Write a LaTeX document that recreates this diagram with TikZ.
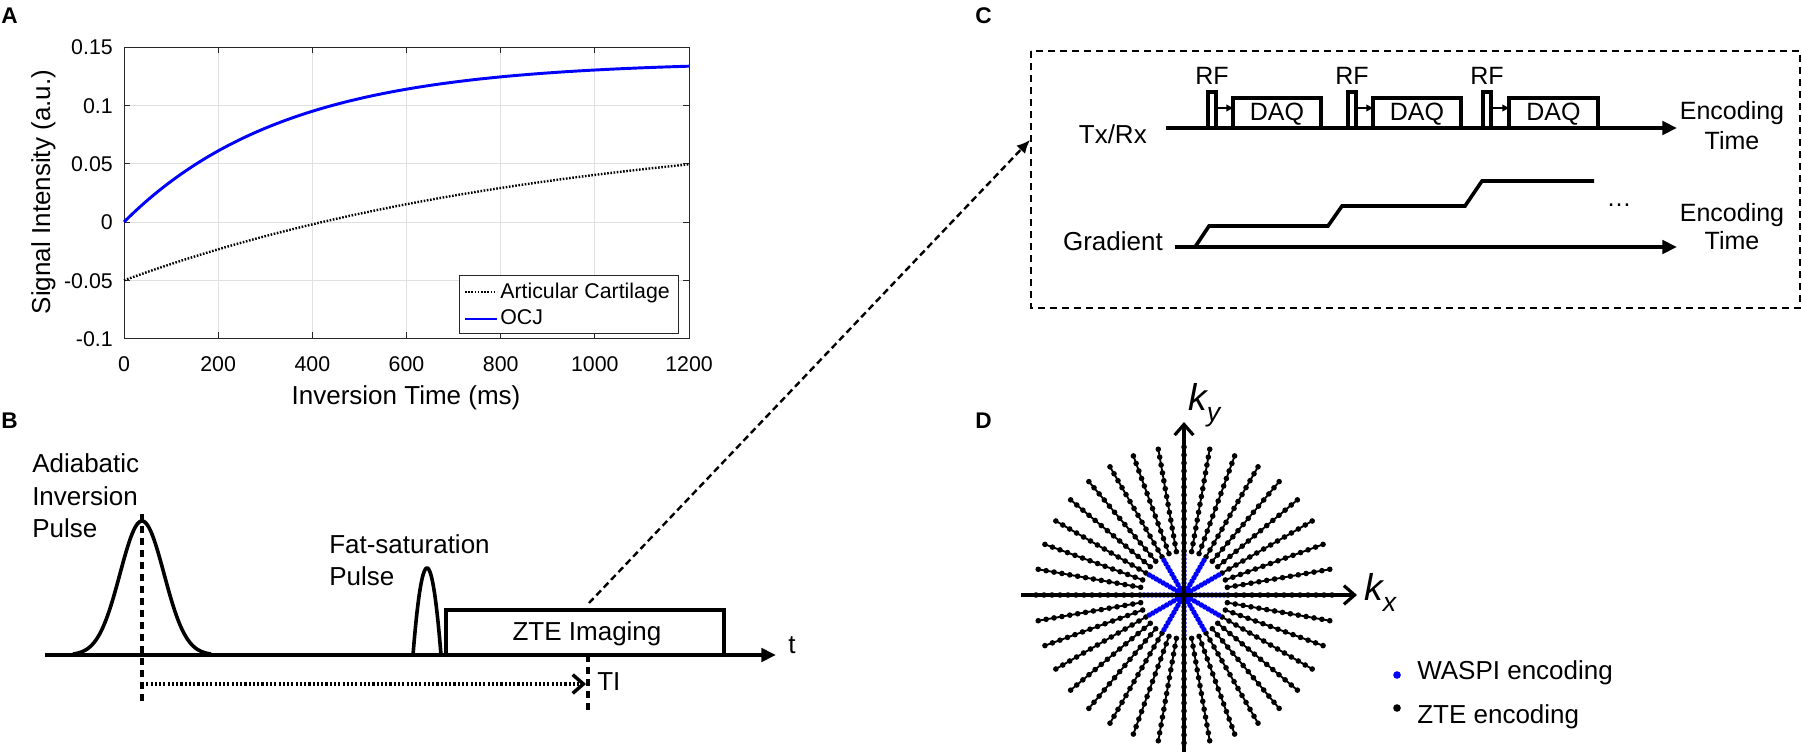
\documentclass[tikz,border=0pt]{standalone}
\usepackage{fontspec}
\setmainfont{Liberation Sans}
\usetikzlibrary{arrows.meta}

\tikzset{
  panel/.style={font=\fontsize{17}{20}\selectfont\bfseries, inner sep=0pt, anchor=base west},
  ticklbl/.style={font=\fontsize{16}{19}\selectfont, inner sep=0pt},
  axlbl/.style={font=\fontsize{19.5}{23}\selectfont, inner sep=0pt, anchor=base},
  leglbl/.style={font=\fontsize{16}{19}\selectfont, inner sep=0pt, anchor=base west},
  seqtxt/.style={font=\fontsize{19.5}{23}\selectfont, inner sep=0pt},
  ctxt/.style={font=\fontsize{18.75}{22}\selectfont, inner sep=0pt, anchor=base},
  ktxt/.style={font=\fontsize{28}{31}\selectfont\itshape, inner sep=0pt, anchor=base west},
  gridln/.style={draw=black!12, line width=0.6pt},
  axln/.style={draw=black!85, line width=0.6pt},
  seqln/.style={line width=2.7pt},
  dashln/.style={line width=2.3pt, dash pattern=on 5.5pt off 3.5pt},
  dotln/.style={line width=1.8pt, dash pattern=on 1.2pt off 1.2pt},
  tarrow/.style={-{Triangle[length=11pt,width=10pt]}},
  barb/.style={-{Straight Barb[length=8pt,width=14pt]}},
  spoke/.style={line width=1.4pt},
}

\begin{document}
\begin{tikzpicture}[x=0.75pt,y=0.75pt,yscale=-1]
\fill[white] (0,0) rectangle (1802,752);
\useasboundingbox (0,0) rectangle (1802,752);

% ---------------- A: inversion recovery curves
\node[panel] (labA) at (1,24) {A};
\foreach \k in {1,...,5}
  \draw[gridln] ({124+94.17*\k},47) -- ({124+94.17*\k},338);
\foreach \j in {1,...,4}
  \draw[gridln] (124,{47+58.33*\j}) -- (689,{47+58.33*\j});
\draw[axln] (124,47) rectangle (689,338);
\foreach \k/\v in {0/0,1/200,2/400,3/600,4/800,5/1000,6/1200} {
  \draw[axln] ({124+94.17*\k},338) -- ++(0,-6) ({124+94.17*\k},47) -- ++(0,6);
  \node[ticklbl, anchor=base] (xt\k) at ({124+94.17*\k},371) {\v};
}
\foreach \j/\v in {0/0.15,1/0.1,2/0.05,3/0,4/-0.05,5/-0.1} {
  \draw[axln] (124,{47+58.33*\j}) -- ++(6,0) (689,{47+58.33*\j}) -- ++(-6,0);
  \node[ticklbl, anchor=base east] (yt\j) at (113,{55+58.33*\j}) {\v};
}
\draw[dotln] plot[domain=0:1200, samples=80, smooth] ({124+0.4708*\x},{222-1166.7*(0.087-0.137*exp(-\x/928))});
\draw[blue, line width=2.2pt] plot[domain=0:1200, samples=80, smooth] ({124+0.4708*\x},{222-160.6*(1-exp(-\x/342))});
% legend
\draw[axln, fill=white] (459,275) rectangle (678,333);
\draw[dotln] (465,292) -- (497,292);
\draw[blue, line width=2.2pt] (465,319) -- (497,319);
\node[leglbl] (legAC) at (500,298) {Articular Cartilage};
\node[leglbl] (legOCJ) at (500,325) {OCJ};
\node[axlbl] (xlab) at (406,404) {Inversion Time (ms)};
\node[axlbl, rotate=90] (ylab) at (50,192) {Signal Intensity (a.u.)};

% ---------------- B: pulse sequence
\node[panel] (labB) at (1,428) {B};
\draw[seqln, tarrow] (45,655) -- (776,655);
\node[seqtxt, anchor=base west] (tlab) at (788,653) {t};
\draw[seqln] plot[domain=-69:69, samples=80, smooth] ({142+\x},{655-134*exp(-(\x*\x)/968)});
\draw[dashln] (142,514) -- (142,705);
\draw[seqln] plot[domain=-1:1, samples=40, smooth] ({427+14*\x},{655-87*(1-\x*\x)});
\draw[seqln] (446,655) -- (446,610) -- (724,610) -- (724,655);
\node[seqtxt, anchor=base] (zte) at (587,640) {ZTE Imaging};
\draw[dashln] (588,655) -- (588,710);
\coordinate (tiStart) at (142,684);
\coordinate (tiEnd) at (586,684);
\draw[line width=2.6pt, dash pattern=on 1.6pt off 1.6pt, barb] (tiStart) -- (tiEnd);
\node[seqtxt, anchor=base west] (tilab) at (597,690) {TI};
\node[seqtxt, anchor=base west] (adia1) at (32,472) {Adiabatic};
\node[seqtxt, anchor=base west] (adia2) at (32,505) {Inversion};
\node[seqtxt, anchor=base west] (adia3) at (32,537) {Pulse};
\node[seqtxt, anchor=base west] (fat1) at (329,553) {Fat-saturation};
\node[seqtxt, anchor=base west] (fat2) at (329,585) {Pulse};

% zoom connector
\coordinate (zteTop) at (589,603);
\coordinate (cIn) at (1030,140);
\draw[line width=1.8pt, dash pattern=on 5pt off 3pt, -{Latex[length=10pt,width=9pt]}] (zteTop) -- (cIn);

% ---------------- C: ZTE readout
\node[panel] (labC) at (975,24) {C};
\draw[line width=2.2pt, dash pattern=on 5.5pt off 3.5pt] (1031,51) rectangle (1800,308);
\node[seqtxt, anchor=base east] (txrx) at (1147,144) {Tx/Rx};
\draw[seqln, tarrow] (1166,128) -- (1677,128);
\foreach \r/\a/\b [count=\i] in {1208/1233/1321, 1348/1373/1461, 1483/1509/1598} {
  \draw[seqln] (\r,128) -- (\r,92) -- (\r+8,92) -- (\r+8,128);
  \draw[seqln] (\a,128) -- (\a,98) -- (\b,98) -- (\b,128);
  \draw[line width=1.5pt, -{Triangle[length=5pt,width=5pt]}] (\r+9,108) -- (\a,108);
  \node[ctxt] (daq\i) at ({(\a+\b)/2},121) {DAQ};
  \node[ctxt] (rf\i) at (\r+4,85) {RF};
}
\node[ctxt] (enc1) at (1732,120) {Encoding};
\node[ctxt] (tim1) at (1732,150) {Time};
\node[seqtxt, anchor=base east] (grad) at (1163,251) {Gradient};
\draw[seqln, tarrow] (1175,247) -- (1677,247);
\draw[seqln] (1195,247) -- (1209,226) -- (1328,226) -- (1342,206) -- (1465,206) -- (1482,181) -- (1594,181);
\node[ctxt] (more) at (1619,207) {\dots};
\node[ctxt] (enc2) at (1732,222) {Encoding};
\node[ctxt] (tim2) at (1732,250) {Time};

% ---------------- D: k-space
\node[panel] (labD) at (975,428) {D};
\begin{scope}[shift={(1184,595)}]
  \foreach \a in {0,10,...,350} {
    \draw[spoke] (\a:44) -- (\a:150);
    \foreach \r in {44,52,...,148} \fill (\a:\r) circle (2.8);
  }
  \foreach \a in {0,30,...,330} {
    \draw[blue, line width=1.5pt] (0,0) -- (\a:42);
    \foreach \r in {0,4,...,40} \fill[blue] (\a:\r) circle (2.7);
  }
  \fill (0,0) circle (3.2);
\end{scope}
\coordinate (kxS) at (1021,595);
\coordinate (kxE) at (1357,595);
\coordinate (kyS) at (1184,752);
\coordinate (kyE) at (1184,422);
\draw[line width=2.4pt, barb] (kxS) -- (kxE);
\draw[line width=2.4pt, barb] (kyS) -- (kyE);
\node[ktxt] (kx) at (1364,600) {k\raisebox{-0.3em}{\fontsize{20}{23}\selectfont x}};
\node[ktxt] (ky) at (1188,410) {k\raisebox{-0.3em}{\fontsize{20}{23}\selectfont y}};
\fill[blue] (1397,675) circle (3.8);
\fill (1397,708) circle (3.8);
\node[seqtxt, anchor=base west] (legW) at (1417,679) {WASPI encoding};
\node[seqtxt, anchor=base west] (legZ) at (1417,723) {ZTE encoding};
\end{tikzpicture}
\end{document}
